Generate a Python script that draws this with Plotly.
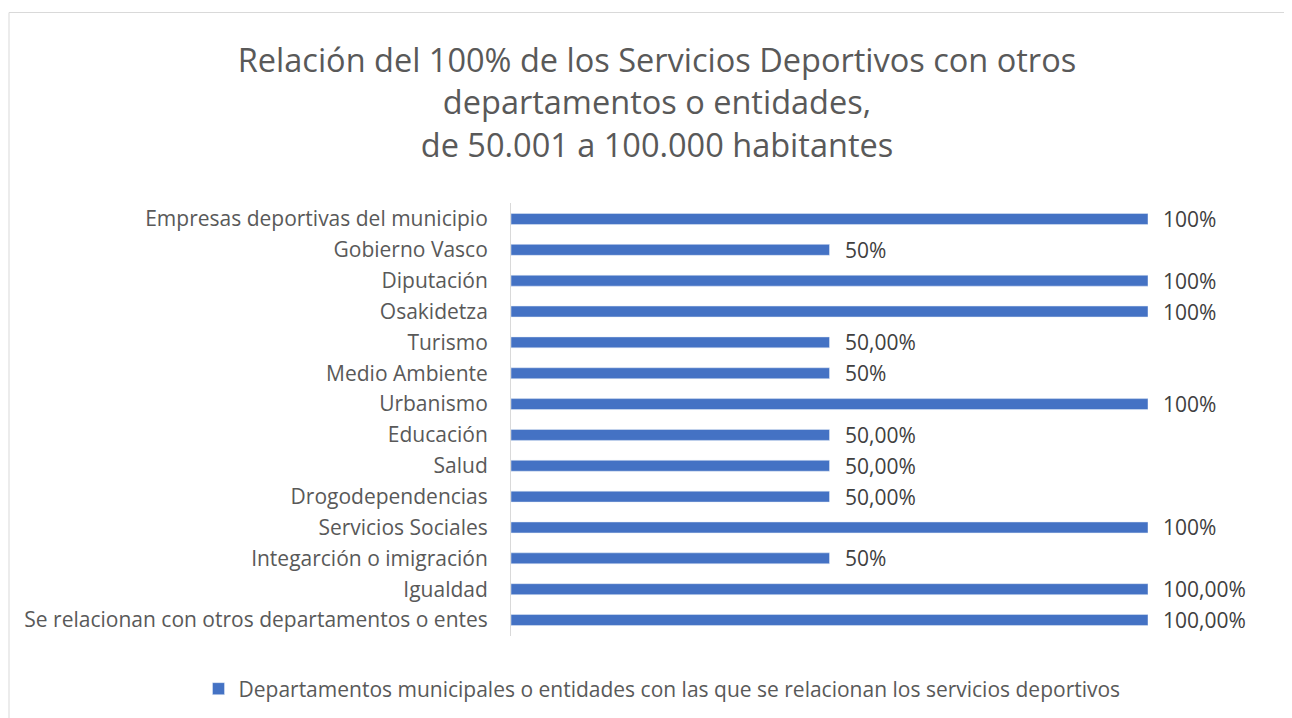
import plotly.graph_objects as go

categories = [
    "Empresas deportivas del municipio",
    "Gobierno Vasco",
    "Diputación",
    "Osakidetza",
    "Turismo",
    "Medio Ambiente",
    "Urbanismo",
    "Educación",
    "Salud",
    "Drogodependencias",
    "Servicios Sociales",
    "Integarción o imigración",
    "Igualdad",
    "Se relacionan con otros departamentos o entes",
]
values = [1.0, 0.5, 1.0, 1.0, 0.5, 0.5, 1.0, 0.5, 0.5, 0.5, 1.0, 0.5, 1.0, 1.0]
value_labels = ["100%", "50%", "100%", "100%", "50,00%", "50%", "100%", "50,00%",
                "50,00%", "50,00%", "100%", "50%", "100,00%", "100,00%"]
series_name = "Departamentos municipales o entidades con las que se relacionan los servicios deportivos"
title_text = ("Relación del 100% de los Servicios Deportivos con otros<br>"
              "departamentos o entidades,<br>de 50.001 a 100.000 habitantes")

FONT = "'Open Sans', sans-serif"
OFF = 8  # page body margin
W, H = 1292 - OFF, 718 - OFF
L, R, T, B = 511 - OFF, 1148 - OFF, 203 - OFF, 636 - OFF
pw, ph = R - L, B - T

fig = go.Figure()
fig.add_trace(go.Bar(
    y=categories, x=values, orientation="h",
    marker=dict(color="#4472C4"),
    name=series_name, showlegend=True,
))

for c, v, t in zip(categories, values, value_labels):
    fig.add_annotation(x=v, y=c, text=t, showarrow=False, xanchor="left",
                       xshift=13, font=dict(family=FONT, size=21, color="#404040"))

def px(x):
    return (x - OFF - L) / pw

def py(y):
    return (B - (y - OFF)) / ph

fig.add_shape(type="rect", xref="paper", yref="paper",
              x0=px(9), x1=px(1285), y0=py(740), y1=py(12.5),
              line=dict(color="#d9d9d9", width=1), layer="below")

fig.update_layout(
    width=W, height=H,
    margin=dict(l=L, r=W - R, t=T, b=H - B, autoexpand=False),
    paper_bgcolor="white", plot_bgcolor="white",
    bargap=0.645,
    title=dict(text=title_text, x=(657 - OFF) / W, xanchor="center",
               y=1 - (72 - OFF) / H, yanchor="middle",
               font=dict(family=FONT, size=32.5, color="#595959")),
    xaxis=dict(range=[0, 1], visible=False, fixedrange=True),
    yaxis=dict(autorange="reversed", showline=True, linecolor="#d9d9d9", linewidth=1,
               showgrid=False, ticks="", ticklabelstandoff=18,
               tickfont=dict(family=FONT, size=21, color="#595959")),
    legend=dict(orientation="h", x=px(662), xanchor="center", y=py(689), yanchor="middle",
                font=dict(family=FONT, size=21, color="#595959"), itemwidth=30),
    font=dict(family=FONT),
)

fig.write_html("out.html")
